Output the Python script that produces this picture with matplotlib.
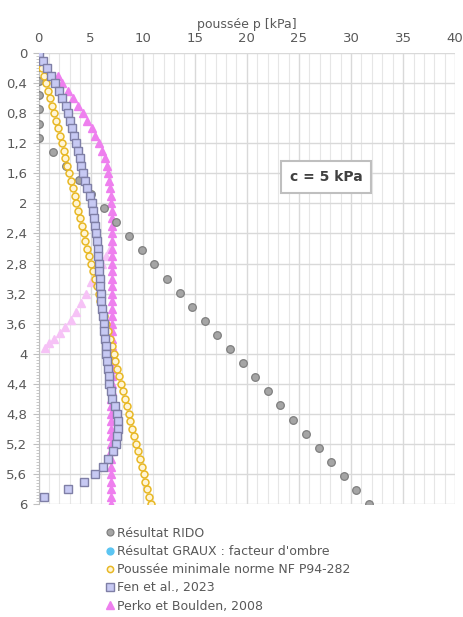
import matplotlib.pyplot as plt
from matplotlib.ticker import MultipleLocator, FuncFormatter

# profondeurs [m] et poussées [kPa]
rido_depth = [0, 0.1875, 0.375, 0.5625, 0.75, 0.9375, 1.125, 1.3125, 1.5, 1.6875,
              1.875, 2.0625, 2.25, 2.4375, 2.625, 2.8125, 3.0, 3.1875, 3.375, 3.5625,
              3.75, 3.9375, 4.125, 4.3125, 4.5, 4.6875, 4.875, 5.0625, 5.25, 5.4375,
              5.625, 5.8125, 6.0]
rido_p = [0, 0, 0, 0, 0, 0, 0, 1.35, 2.65, 3.85,
          5.05, 6.25, 7.45, 8.7, 9.9, 11.1, 12.3, 13.55, 14.75, 15.95,
          17.15, 18.35, 19.6, 20.8, 22.0, 23.2, 24.45, 25.65, 26.9, 28.1,
          29.3, 30.5, 31.7]

nf_depth = [0, 0.1, 0.2, 0.3, 0.4, 0.5, 0.6, 0.7, 0.8, 0.9,
            1.0, 1.1, 1.2, 1.3, 1.4, 1.5, 1.6, 1.7, 1.8, 1.9,
            2.0, 2.1, 2.2, 2.3, 2.4, 2.5, 2.6, 2.7, 2.8, 2.9,
            3.0, 3.1, 3.2, 3.3, 3.4, 3.5, 3.6, 3.7, 3.8, 3.9,
            4.0, 4.1, 4.2, 4.3, 4.4, 4.5, 4.6, 4.7, 4.8, 4.9,
            5.0, 5.1, 5.2, 5.3, 5.4, 5.5, 5.6, 5.7, 5.8, 5.9, 6.0]
nf_p = [0, 0.2, 0.38, 0.57, 0.76, 0.95, 1.13, 1.32, 1.5, 1.68,
        1.86, 2.04, 2.22, 2.4, 2.58, 2.76, 2.94, 3.12, 3.3, 3.47,
        3.64, 3.81, 3.98, 4.15, 4.32, 4.5, 4.68, 4.86, 5.04, 5.22,
        5.4, 5.58, 5.76, 5.94, 6.12, 6.3, 6.48, 6.66, 6.84, 7.02,
        7.2, 7.38, 7.56, 7.74, 7.92, 8.1, 8.28, 8.46, 8.64, 8.82,
        9.0, 9.18, 9.36, 9.54, 9.72, 9.9, 10.08, 10.26, 10.44, 10.62, 10.78]

fen_depth = nf_depth[:60]
fen_p = [0, 0.45, 0.85, 1.2, 1.6, 2.0, 2.3, 2.6, 2.8, 3.0,
         3.2, 3.4, 3.6, 3.75, 3.95, 4.1, 4.3, 4.5, 4.7, 4.9,
         5.1, 5.25, 5.35, 5.45, 5.52, 5.6, 5.68, 5.74, 5.8, 5.83,
         5.86, 5.92, 5.98, 6.03, 6.1, 6.17, 6.24, 6.31, 6.38, 6.45,
         6.52, 6.6, 6.65, 6.72, 6.8, 6.95, 7.1, 7.35, 7.5, 7.6,
         7.6, 7.55, 7.45, 7.15, 6.65, 6.15, 5.4, 4.35, 2.8, 0.55]

perko_depth = nf_depth[3:]
perko_p = [1.9, 2.3, 2.8, 3.3, 3.8, 4.25, 4.7,
           5.1, 5.45, 5.8, 6.1, 6.35, 6.55, 6.7, 6.8, 6.9, 6.95,
           7.0, 7.05, 7.05, 7.05, 7.05, 7.05, 7.05, 7.05, 7.05, 7.05,
           7.05, 7.05, 7.05, 7.05, 7.05, 7.05, 7.05, 7.05, 7.05, 7.05,
           7.05, 7.05, 7.05, 7.05, 7.05, 7.05, 7.0, 7.0, 7.0, 7.0,
           7.0, 7.0, 7.0, 7.0, 7.0, 7.0, 7.0, 7.0, 7.0, 7.0, 7.0]

# branche claire (Perko) qui part vers la gauche
perko2_depth = [2.6, 2.7, 2.8, 2.9, 3.04, 3.2, 3.33, 3.44, 3.55, 3.65, 3.73, 3.81, 3.86, 3.93]
perko2_p = [6.85, 6.45, 6.05, 5.6, 5.05, 4.57, 4.1, 3.62, 3.08, 2.57, 2.03, 1.48, 0.98, 0.6]

labels = ["Résultat RIDO", "Résultat GRAUX : facteur d'ombre",
          "Poussée minimale norme NF P94-282", "Fen et al., 2023",
          "Perko et Boulden, 2008"]

TXT = "#595959"
plt.rcParams["font.family"] = ["DejaVu Sans"]

fig = plt.figure(figsize=(4.63, 6.17), dpi=100)
ax = fig.add_axes([0.0832, 0.183, 0.9000, 0.731])

ax.plot(perko2_p, perko2_depth, "^", ms=6, color="#f6c2f6", mec="#f6c2f6", zorder=2)
h_perko, = ax.plot(perko_p, perko_depth, "^", ms=6, color="#ee7fee", mec="#ee7fee", zorder=2)
h_rido, = ax.plot(rido_p, rido_depth, "o", ms=5.5, mfc="#a5a5a5", mec="#7f7f7f", mew=0.9, zorder=3)
h_graux, = ax.plot([], [], "o", ms=5.5, color="#5bc5f2")
h_nf, = ax.plot(nf_p, nf_depth, "o", ms=5, mfc="#fff5d6", mec="#e8b825", mew=1.1, zorder=4)
h_fen, = ax.plot(fen_p, fen_depth, "s", ms=5.8, mfc="#c7c9f3", mec="#7f7fa6", mew=1.0, zorder=5)

ax.set_xlim(0, 40)
ax.set_ylim(6, 0)
ax.xaxis.tick_top()
ax.xaxis.set_label_position("top")
ax.xaxis.set_major_locator(MultipleLocator(5))
ax.xaxis.set_minor_locator(MultipleLocator(1))
ax.yaxis.set_major_locator(MultipleLocator(0.4))
ax.yaxis.set_minor_locator(MultipleLocator(0.04))
ax.yaxis.set_major_formatter(FuncFormatter(lambda v, _: f"{v:.1f}".rstrip("0").rstrip(".").replace(".", ",")))

ax.grid(True, which="major", color="#d9d9d9", lw=1.0, zorder=0)
ax.grid(True, which="minor", axis="x", color="#e6e6e6", lw=0.8, zorder=0)
ax.set_axisbelow(True)

ax.tick_params(axis="x", which="both", length=0, pad=6, labelsize=9.5, labelcolor=TXT)
ax.tick_params(axis="y", which="major", length=4, color="#bfbfbf", pad=4, labelsize=9.5, labelcolor=TXT)
ax.tick_params(axis="y", which="minor", length=2, color="#bfbfbf")
for s in ["top", "right", "bottom"]:
    ax.spines[s].set_visible(False)
ax.spines["left"].set_color("#bfbfbf")

ax.set_xlabel("poussée p [kPa]", fontsize=9, color=TXT, labelpad=3)

ax.text(27.6, 1.65, "c = 5 kPa", ha="center", va="center", fontsize=10, fontweight="bold",
        color="#404040", zorder=6,
        bbox=dict(boxstyle="square,pad=0.65", fc="white", ec="#bfbfbf", lw=1.5))

fig.legend([h_rido, h_graux, h_nf, h_fen, h_perko], labels, loc="upper left",
           bbox_to_anchor=(0.218, 0.1545), frameon=False, fontsize=9, labelcolor=TXT,
           handlelength=0.6, handletextpad=0.3, labelspacing=0.42, borderaxespad=0,
           markerscale=0.9)

fig.savefig("out.png", dpi=100)
